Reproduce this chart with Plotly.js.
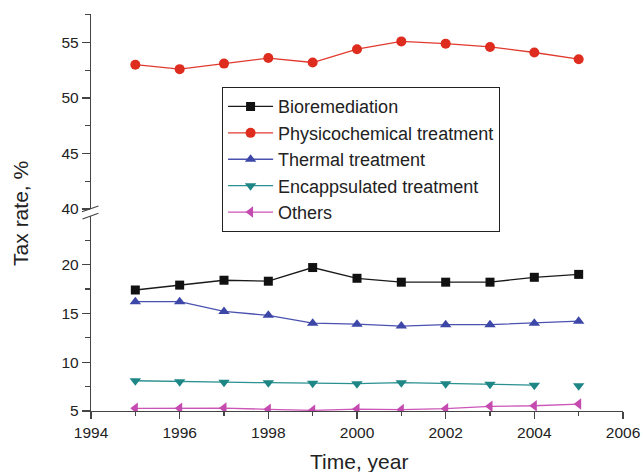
<!DOCTYPE html>
<html>
<head>
<meta charset="utf-8">
<script src="https://cdn.plot.ly/plotly-3.0.1.min.js"></script>
<style>html,body{margin:0;padding:0;background:#fff;}#chart{width:643px;height:472px;}</style>
</head>
<body>
<div id="chart"></div>
<script>
var years = [1995, 1996, 1997, 1998, 1999, 2000, 2001, 2002, 2003, 2004, 2005];
var bioremediation = [17.4, 17.9, 18.4, 18.3, 19.7, 18.6, 18.2, 18.2, 18.2, 18.7, 19.0];
var physicochemical = [53.0, 52.6, 53.1, 53.6, 53.2, 54.4, 55.1, 54.9, 54.6, 54.1, 53.5];
var thermal = [16.2, 16.2, 15.2, 14.8, 14.0, 13.9, 13.7, 13.85, 13.85, 14.0, 14.2];
var encapsulated = [8.1, 8.0, 7.95, 7.9, 7.85, 7.8, 7.9, 7.8, 7.75, 7.65, 7.6];
var others = [5.27, 5.27, 5.3, 5.17, 5.07, 5.2, 5.14, 5.24, 5.48, 5.54, 5.71];
var seriesNames = ["Bioremediation", "Physicochemical treatment", "Thermal treatment", "Encappsulated treatment", "Others"];
var xTickVals = [1994, 1996, 1998, 2000, 2002, 2004, 2006];
var lowerTickVals = [5, 10, 15, 20];
var upperTickVals = [40, 45, 50, 55];
var xTitle = "Time, year";
var yTitle = "Tax rate, %";

var font = "Liberation Sans, Arial, Helvetica, sans-serif";
var axisColor = "#444";

var traces = [
  {x: years, y: bioremediation, name: seriesNames[0], mode: "lines+markers", yaxis: "y",
   line: {color: "#1a1a1a", width: 1.3}, marker: {symbol: "square", size: 9, color: "#111"}},
  {x: years, y: physicochemical, name: seriesNames[1], mode: "lines+markers", yaxis: "y2",
   line: {color: "#e03a2e", width: 1.3}, marker: {symbol: "circle", size: 10, color: "#de2d1f"}},
  {x: years, y: thermal, name: seriesNames[2], mode: "lines+markers", yaxis: "y",
   line: {color: "#4a52b0", width: 1.3}, marker: {symbol: "triangle-up", size: 10, color: "#3c47a8"}},
  {x: years.slice(0, 10), y: encapsulated.slice(0, 10), name: seriesNames[3], mode: "lines+markers", yaxis: "y",
   line: {color: "#2a9090", width: 1.3}, marker: {symbol: "triangle-down", size: 10, color: "#1f8686"}},
  {x: years.slice(10), y: encapsulated.slice(10), name: seriesNames[3], mode: "markers", yaxis: "y", showlegend: false,
   marker: {symbol: "triangle-down", size: 10, color: "#1f8686"}},
  {x: years, y: others, name: seriesNames[4], mode: "lines+markers", yaxis: "y",
   line: {color: "#cc55b8", width: 1.3}, marker: {symbol: "triangle-left", size: 10, color: "#c44ab0"}}
];

var yCommon = {
  showline: true, linecolor: axisColor, linewidth: 1.2, ticks: "outside", ticklen: 8, tickwidth: 1.2, tickcolor: axisColor,
  showgrid: false, zeroline: false, tickfont: {family: font, size: 15.5, color: "#222"},
  minor: {dtick: 2.5, ticks: "outside", ticklen: 5, tickwidth: 1.2, tickcolor: axisColor, showgrid: false}
};

var layout = {
  width: 643, height: 472,
  margin: {l: 91, r: 20, t: 14, b: 61},
  paper_bgcolor: "#fff", plot_bgcolor: "#fff",
  font: {family: font, color: "#222"},
  showlegend: true,
  legend: {x: 0.246, y: 0.816, xanchor: "left", yanchor: "top", bordercolor: "#222", borderwidth: 1.2,
           bgcolor: "#fff", font: {family: font, size: 18, color: "#222"}, tracegroupgap: 0, itemwidth: 45},
  xaxis: {range: [1994, 2006], tickvals: xTickVals, showline: true, linecolor: axisColor, linewidth: 1.2,
          ticks: "outside", ticklen: 7, tickwidth: 1.2, tickcolor: axisColor, showgrid: false, zeroline: false,
          tickfont: {family: font, size: 15.5, color: "#222"},
          minor: {dtick: 1, ticks: "outside", ticklen: 4, tickwidth: 1.2, tickcolor: axisColor, showgrid: false},
          anchor: "y"},
  yaxis: Object.assign({}, yCommon, {domain: [0, 0.4904], range: [5, 24.95], tickvals: lowerTickVals, anchor: "x"}),
  yaxis2: Object.assign({}, yCommon, {domain: [0.5088, 1], range: [40, 57.57], tickvals: upperTickVals, anchor: "x"}),
  annotations: [
    {text: xTitle, xref: "paper", yref: "paper", x: 0.504, y: -0.126, xanchor: "center", yanchor: "middle",
     showarrow: false, font: {family: font, size: 21, color: "#222"}},
    {text: yTitle, xref: "paper", yref: "paper", x: -0.1316, y: 0.499, xanchor: "center", yanchor: "middle",
     textangle: -90, showarrow: false, font: {family: font, size: 21, color: "#222"}}
  ],
  shapes: [
    {type: "line", xref: "paper", yref: "paper", x0: -0.017, x1: 0.014, y0: (411 - 211.7) / 397, y1: (411 - 206) / 397,
     line: {color: axisColor, width: 1.2}},
    {type: "line", xref: "paper", yref: "paper", x0: -0.016, x1: 0.014, y0: (411 - 219) / 397, y1: (411 - 213.3) / 397,
     line: {color: axisColor, width: 1.2}}
  ]
};

Plotly.newPlot("chart", traces, layout, {displayModeBar: false, staticPlot: true});
</script>
</body>
</html>
